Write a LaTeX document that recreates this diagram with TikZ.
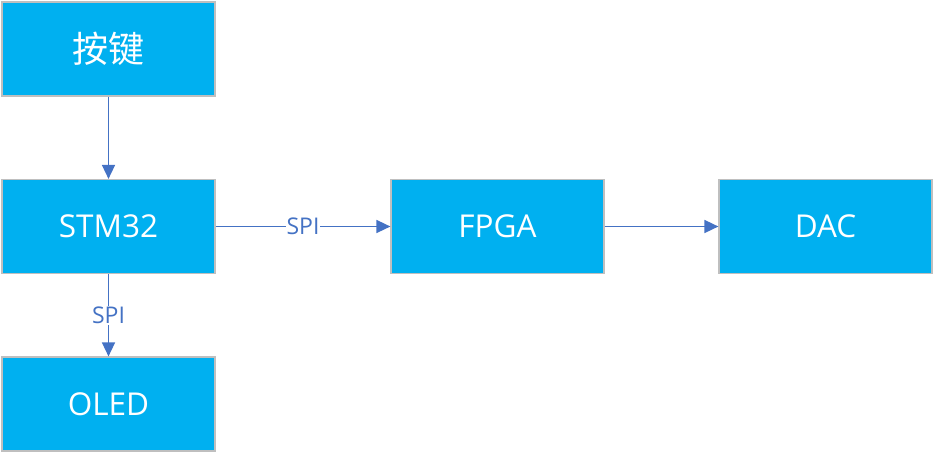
\documentclass[tikz,border=0pt]{standalone}
\usepackage{fontspec}
\setmainfont{Open Sans}
\newfontfamily\cjk{Noto Sans CJK SC}
\usetikzlibrary{arrows.meta}
\definecolor{boxblue}{HTML}{00B0F0}
\definecolor{linkblue}{HTML}{4472C4}
\definecolor{edgegrey}{HTML}{BFBFBF}
\tikzset{
  block/.style={draw=edgegrey, line width=1.2pt, fill=boxblue, text=white,
    minimum width=213pt, minimum height=94pt, inner sep=0pt,
    font=\fontsize{31.5}{31.5}\selectfont},
  link/.style={draw=linkblue, line width=1.6pt, -{Triangle[length=14pt,width=13pt]}},
  tag/.style={fill=white, text=linkblue, inner sep=1pt, font=\fontsize{23}{23}\selectfont}
}
\begin{document}
\begin{tikzpicture}[x=1pt,y=-1pt]
\useasboundingbox (0,0) rectangle (934,453);
\node[block] (key) at (108.5,49) {\cjk\fontsize{36}{36}\selectfont 按键};
\node[block] (stm) at (108.5,226.5) {STM32};
\node[block] (oled) at (108.5,404) {OLED};
\node[block] (fpga) at (497.5,226.5) {FPGA};
\node[block] (dac) at (825.5,226.5) {DAC};

\draw[link] (key) -- (stm);
\draw[link] (stm) -- node[tag] {SPI} (oled);
\draw[link] (stm) -- node[tag] {SPI} (fpga);
\draw[link] (fpga) -- (dac);
\end{tikzpicture}
\end{document}
